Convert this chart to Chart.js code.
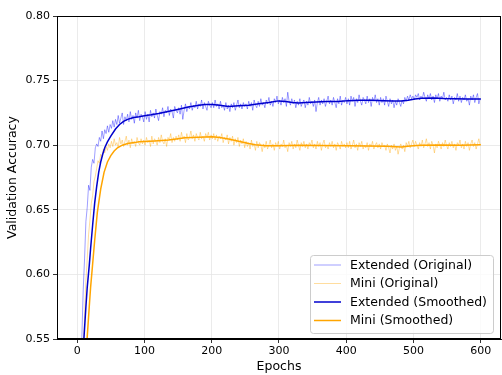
<!DOCTYPE html>
<html>
<head>
<meta charset="utf-8">
<script src="https://cdn.jsdelivr.net/npm/chart.js@4.4.1/dist/chart.umd.min.js"></script>
<style>
  html, body { margin: 0; padding: 0; background: #fff; }
  canvas { display: block; }
</style>
</head>
<body>
<canvas id="myChart" width="502" height="375"></canvas>
<script>
// epochs of the raw curves: every second epoch, 1..599
const rawEpochs = Array.from({ length: 300 }, (_, i) => 1 + 2 * i);

const extendedOriginal = [
  0.300, 0.420, 0.500, 0.552, 0.588, 0.612, 0.641, 0.652, 0.669, 0.665, 0.683, 0.689, 0.686, 0.698, 0.701, 0.699, 0.706, 0.703, 0.711, 0.705, 0.712, 0.709, 0.715, 0.710, 0.716,
  0.713, 0.719, 0.714, 0.720, 0.716, 0.723, 0.717, 0.721, 0.725, 0.716, 0.722, 0.719, 0.724, 0.718, 0.726, 0.720, 0.723, 0.717, 0.725, 0.721, 0.727, 0.719, 0.724, 0.722, 0.718,
  0.726, 0.720, 0.724, 0.718, 0.727, 0.722, 0.725, 0.721, 0.728, 0.723, 0.719, 0.726, 0.724, 0.729, 0.722, 0.727, 0.725, 0.730, 0.723, 0.728, 0.726, 0.721, 0.730, 0.727, 0.725,
  0.729, 0.724, 0.731, 0.720, 0.727, 0.732, 0.726, 0.730, 0.728, 0.733, 0.727, 0.731, 0.729, 0.734, 0.728, 0.732, 0.730, 0.735, 0.728, 0.733, 0.730, 0.727, 0.734, 0.731, 0.729,
  0.733, 0.729, 0.735, 0.730, 0.732, 0.728, 0.734, 0.729, 0.731, 0.727, 0.733, 0.728, 0.731, 0.726, 0.732, 0.729, 0.733, 0.727, 0.731, 0.735, 0.729, 0.732, 0.728, 0.733, 0.730,
  0.732, 0.728, 0.734, 0.730, 0.733, 0.727, 0.735, 0.731, 0.729, 0.734, 0.730, 0.736, 0.731, 0.733, 0.729, 0.735, 0.732, 0.737, 0.731, 0.734, 0.730, 0.736, 0.733, 0.738, 0.732,
  0.735, 0.731, 0.737, 0.733, 0.736, 0.730, 0.741, 0.734, 0.731, 0.736, 0.732, 0.735, 0.729, 0.734, 0.731, 0.736, 0.730, 0.733, 0.735, 0.729, 0.734, 0.731, 0.737, 0.732, 0.734,
  0.730, 0.735, 0.726, 0.733, 0.737, 0.731, 0.735, 0.732, 0.736, 0.730, 0.734, 0.738, 0.732, 0.735, 0.731, 0.737, 0.733, 0.729, 0.736, 0.732, 0.738, 0.731, 0.735, 0.733, 0.737,
  0.732, 0.736, 0.731, 0.738, 0.734, 0.737, 0.730, 0.736, 0.733, 0.739, 0.734, 0.731, 0.737, 0.735, 0.732, 0.738, 0.733, 0.736, 0.730, 0.737, 0.734, 0.739, 0.733, 0.736, 0.731,
  0.737, 0.733, 0.736, 0.731, 0.738, 0.734, 0.730, 0.736, 0.732, 0.735, 0.729, 0.734, 0.731, 0.736, 0.733, 0.730, 0.735, 0.732, 0.737, 0.734, 0.738, 0.735, 0.739, 0.736, 0.738,
  0.735, 0.739, 0.737, 0.740, 0.735, 0.738, 0.736, 0.741, 0.737, 0.734, 0.739, 0.736, 0.740, 0.735, 0.738, 0.733, 0.739, 0.736, 0.740, 0.734, 0.738, 0.736, 0.741, 0.735, 0.737,
  0.734, 0.739, 0.735, 0.738, 0.732, 0.737, 0.735, 0.740, 0.734, 0.738, 0.733, 0.737, 0.735, 0.739, 0.734, 0.736, 0.731, 0.738, 0.735, 0.739, 0.733, 0.737, 0.740, 0.732, 0.736
];

const miniOriginal = [
  0.250, 0.350, 0.430, 0.490, 0.535, 0.568, 0.595, 0.612, 0.631, 0.642, 0.655, 0.661, 0.672, 0.676, 0.682, 0.688, 0.686, 0.693, 0.691, 0.697, 0.694, 0.699, 0.696, 0.701, 0.698,
  0.703, 0.699, 0.705, 0.700, 0.702, 0.698, 0.706, 0.701, 0.704, 0.699, 0.703, 0.707, 0.700, 0.704, 0.698, 0.705, 0.701, 0.703, 0.699, 0.706, 0.702, 0.700, 0.705, 0.701, 0.704,
  0.700, 0.706, 0.702, 0.704, 0.699, 0.707, 0.701, 0.705, 0.703, 0.700, 0.706, 0.702, 0.708, 0.703, 0.701, 0.705, 0.699, 0.706, 0.704, 0.709, 0.702, 0.706, 0.703, 0.707, 0.704,
  0.708, 0.703, 0.710, 0.705, 0.707, 0.702, 0.709, 0.704, 0.706, 0.711, 0.705, 0.708, 0.703, 0.709, 0.706, 0.704, 0.710, 0.705, 0.707, 0.703, 0.709, 0.706, 0.710, 0.704, 0.708,
  0.705, 0.709, 0.704, 0.708, 0.703, 0.707, 0.705, 0.709, 0.702, 0.706, 0.704, 0.708, 0.701, 0.706, 0.703, 0.707, 0.700, 0.705, 0.702, 0.706, 0.699, 0.704, 0.701, 0.705, 0.698,
  0.703, 0.699, 0.702, 0.697, 0.704, 0.699, 0.701, 0.696, 0.703, 0.698, 0.702, 0.700, 0.695, 0.701, 0.698, 0.703, 0.697, 0.700, 0.704, 0.698, 0.701, 0.696, 0.702, 0.699, 0.703,
  0.697, 0.701, 0.699, 0.704, 0.698, 0.700, 0.695, 0.702, 0.699, 0.703, 0.697, 0.701, 0.698, 0.704, 0.700, 0.696, 0.702, 0.699, 0.703, 0.698, 0.701, 0.697, 0.702, 0.700, 0.704,
  0.698, 0.701, 0.697, 0.703, 0.699, 0.702, 0.696, 0.701, 0.704, 0.698, 0.700, 0.697, 0.702, 0.699, 0.703, 0.698, 0.701, 0.696, 0.702, 0.700, 0.697, 0.703, 0.699, 0.701, 0.698,
  0.702, 0.698, 0.703, 0.697, 0.700, 0.704, 0.698, 0.701, 0.696, 0.702, 0.699, 0.703, 0.697, 0.700, 0.698, 0.702, 0.696, 0.701, 0.699, 0.703, 0.697, 0.700, 0.702, 0.698, 0.701,
  0.697, 0.702, 0.699, 0.700, 0.696, 0.701, 0.698, 0.694, 0.700, 0.697, 0.701, 0.696, 0.699, 0.693, 0.698, 0.701, 0.697, 0.700, 0.695, 0.702, 0.699, 0.703, 0.698, 0.701, 0.704,
  0.699, 0.703, 0.700, 0.697, 0.702, 0.699, 0.704, 0.698, 0.701, 0.705, 0.699, 0.702, 0.697, 0.703, 0.700, 0.694, 0.701, 0.698, 0.703, 0.700, 0.697, 0.702, 0.699, 0.704, 0.700,
  0.697, 0.702, 0.699, 0.703, 0.698, 0.701, 0.696, 0.702, 0.700, 0.704, 0.698, 0.701, 0.697, 0.703, 0.699, 0.702, 0.696, 0.701, 0.704, 0.699, 0.702, 0.697, 0.701, 0.705, 0.700
];

// smoothed curves, read at fewer epochs
const extSmoothEpochs = [5, 8, 10, 13, 15, 18, 20, 23, 26, 29, 32, 35, 38, 41, 45, 50, 57, 63, 69, 75, 84, 92, 100, 110, 121, 135, 151, 165, 181, 190, 201, 212, 225, 240, 255, 270, 285, 299, 310, 320, 329, 340, 355, 370, 388, 403, 420, 438, 455, 470, 482, 492, 502, 512, 530, 545, 561, 580, 600];
const extendedSmoothed = [0.470, 0.525, 0.550, 0.575, 0.590, 0.607, 0.620, 0.638, 0.655, 0.668, 0.679, 0.687, 0.693, 0.698, 0.7025, 0.707, 0.7125, 0.716, 0.7185, 0.720, 0.7215, 0.722, 0.7228, 0.7235, 0.7245, 0.726, 0.7279, 0.7295, 0.731, 0.7315, 0.7315, 0.731, 0.730, 0.7305, 0.731, 0.732, 0.733, 0.7343, 0.7338, 0.733, 0.7327, 0.733, 0.7335, 0.7338, 0.7338, 0.7345, 0.7348, 0.7348, 0.7345, 0.7343, 0.7342, 0.7348, 0.7357, 0.7364, 0.7366, 0.7362, 0.736, 0.7358, 0.7357];

const miniSmoothEpochs = [8, 12, 15, 18, 20, 23, 26, 30, 35, 40, 45, 50, 55, 60, 67, 75, 85, 92, 100, 115, 136, 150, 160, 180, 201, 212, 225, 240, 255, 265, 280, 300, 329, 360, 403, 430, 460, 482, 495, 510, 540, 570, 600];
const miniSmoothed = [0.450, 0.520, 0.552, 0.575, 0.590, 0.608, 0.626, 0.648, 0.666, 0.679, 0.687, 0.692, 0.6955, 0.698, 0.700, 0.7013, 0.702, 0.7026, 0.7028, 0.7033, 0.704, 0.705, 0.7057, 0.7062, 0.7065, 0.706, 0.7048, 0.703, 0.7013, 0.7003, 0.6995, 0.6995, 0.700, 0.6998, 0.6995, 0.6993, 0.6992, 0.6987, 0.6993, 0.700, 0.7002, 0.700, 0.7003];

const xTicks = [0, 100, 200, 300, 400, 500, 600];
const yTicks = [0.55, 0.60, 0.65, 0.70, 0.75, 0.80];
const seriesLabels = ['Extended (Original)', 'Mini (Original)', 'Extended (Smoothed)', 'Mini (Smoothed)'];

const toPoints = (xs, ys) => xs.map((x, i) => ({ x: x, y: ys[i] }));
const TICK_FONT = { family: 'DejaVu Sans', size: 11 };
const LABEL_FONT = { family: 'DejaVu Sans', size: 12.5 };

// axes frame + legend box inside the plot, like matplotlib
const framePlugin = {
    id: 'frame',
    afterDraw(chart) {
        const c = chart.ctx;
        const a = chart.chartArea;
        c.save();
        c.strokeStyle = '#000';
        c.lineWidth = 1;
        c.strokeRect(a.left + 0.5, a.top + 0.5, a.right - a.left - 1, a.bottom - a.top - 1);

        const bx = 310.5, by = 255.5, bw = 183, bh = 78, r = 3;
        c.beginPath();
        c.moveTo(bx + r, by);
        c.arcTo(bx + bw, by, bx + bw, by + bh, r);
        c.arcTo(bx + bw, by + bh, bx, by + bh, r);
        c.arcTo(bx, by + bh, bx, by, r);
        c.arcTo(bx, by, bx + bw, by, r);
        c.closePath();
        c.fillStyle = 'rgba(255,255,255,0.8)';
        c.fill();
        c.strokeStyle = '#cccccc';
        c.stroke();

        const rows = [265, 283.5, 302, 320.5];
        c.font = '12.5px "DejaVu Sans"';
        c.textBaseline = 'middle';
        c.textAlign = 'left';
        chart.data.datasets.forEach((ds, k) => {
            c.strokeStyle = ds.borderColor;
            c.lineWidth = ds.borderWidth;
            c.beginPath();
            c.moveTo(314, rows[k]);
            c.lineTo(341, rows[k]);
            c.stroke();
            c.fillStyle = '#000';
            c.fillText(ds.label, 350, rows[k] + 0.5);
        });
        c.restore();
    }
};

new Chart(document.getElementById('myChart'), {
    type: 'line',
    data: {
        datasets: [
            { label: seriesLabels[0], data: toPoints(rawEpochs, extendedOriginal), borderColor: 'rgba(0,0,255,0.38)', borderWidth: 1, order: 4 },
            { label: seriesLabels[1], data: toPoints(rawEpochs, miniOriginal), borderColor: 'rgba(255,165,0,0.38)', borderWidth: 1, order: 3 },
            { label: seriesLabels[2], data: toPoints(extSmoothEpochs, extendedSmoothed), borderColor: '#0000cc', borderWidth: 1.5, order: 2 },
            { label: seriesLabels[3], data: toPoints(miniSmoothEpochs, miniSmoothed), borderColor: '#ffa500', borderWidth: 1.5, order: 1 }
        ]
    },
    options: {
        responsive: false,
        animation: false,
        elements: { point: { radius: 0 }, line: { tension: 0 } },
        layout: { padding: { top: 16, right: 1, left: 0, bottom: 0 } },
        plugins: {
            legend: { display: false },
            tooltip: { enabled: false }
        },
        scales: {
            x: {
                type: 'linear',
                min: -29.95,
                max: 629.95,
                afterBuildTicks: s => { s.ticks = xTicks.map(v => ({ value: v })); },
                afterFit: s => { s.height = 36; },
                ticks: { color: '#000', font: TICK_FONT, padding: 2, maxRotation: 0 },
                grid: { color: '#e6e6e6', lineWidth: 0.8, tickColor: '#000', tickLength: 4 },
                border: { color: '#000' },
                title: { display: true, text: 'Epochs', color: '#000', font: LABEL_FONT, padding: { top: 0, bottom: 1 } }
            },
            y: {
                min: 0.55,
                max: 0.80,
                afterBuildTicks: s => { s.ticks = yTicks.map(v => ({ value: v })); },
                afterFit: s => { s.width = 57; },
                ticks: { color: '#000', font: TICK_FONT, padding: 3, callback: v => v.toFixed(2) },
                grid: { color: '#e6e6e6', lineWidth: 0.8, tickColor: '#000', tickLength: 4 },
                border: { color: '#000' },
                title: { display: true, text: 'Validation Accuracy', color: '#000', font: LABEL_FONT, padding: { top: 5, bottom: 0 } }
            }
        }
    },
    plugins: [framePlugin]
});
</script>
</body>
</html>
